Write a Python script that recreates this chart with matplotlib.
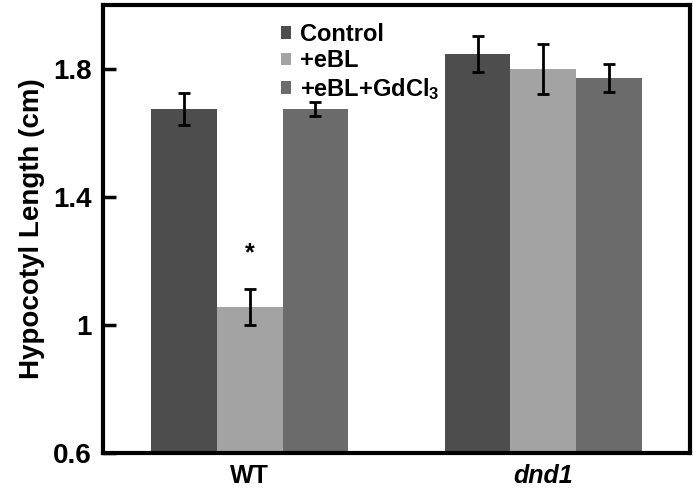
import numpy as np
import matplotlib
matplotlib.use("Agg")
import matplotlib.pyplot as plt

plt.rcParams['font.family'] = ['Liberation Sans', 'DejaVu Sans']
plt.rcParams['font.weight'] = 'bold'
plt.rcParams['mathtext.fontset'] = 'custom'
plt.rcParams['mathtext.rm'] = 'Liberation Sans:bold'
plt.rcParams['mathtext.it'] = 'Liberation Sans:bold:italic'
plt.rcParams['mathtext.bf'] = 'Liberation Sans:bold'

# data
groups = ['WT', 'dnd1']
treatments = ['Control', '+eBL', '+eBL+GdCl$_3$']
control = [1.675, 1.847]
control_err = [0.05, 0.055]
ebl = [1.056, 1.80]
ebl_err = [0.055, 0.077]
ebl_gd = [1.675, 1.772]
ebl_gd_err = [0.022, 0.044]
colors = ['#4d4d4d', '#a3a3a3', '#6b6b6b']

fig = plt.figure(figsize=(6.98, 4.98), dpi=100)
ax = fig.add_axes([103 / 698, 45 / 498, 587 / 698, 448 / 498])

x = np.arange(len(groups))
w = 0.224
series = [(control, control_err), (ebl, ebl_err), (ebl_gd, ebl_gd_err)]
for i, (vals, errs) in enumerate(series):
    pos = x + (i - 1) * w
    ax.bar(pos, vals, width=w, color=colors[i], label=treatments[i], zorder=2)
    ax.errorbar(pos, vals, yerr=errs, fmt='none', ecolor='black',
                elinewidth=2, capsize=4, capthick=2, zorder=3)

# significance marker over WT +eBL
ax.text(x[0], 1.225, '*', ha='center', va='center', fontsize=18, fontweight='bold')

ax.set_xlim(-0.5, 1.5)
ax.set_ylim(0.6, 2.0)
ax.set_yticks([0.6, 1.0, 1.4, 1.8])
ax.set_yticklabels(['0.6', '1', '1.4', '1.8'], fontsize=20, fontweight='bold')
ax.set_xticks(x)
ax.set_xticklabels(groups, fontsize=18, fontweight='bold')
ax.get_xticklabels()[1].set_style('italic')
ax.tick_params(axis='y', direction='in', length=9, width=2.5, pad=8)
ax.tick_params(axis='x', length=0, pad=8)
ax.set_ylabel('Hypocotyl Length (cm)', fontsize=20, fontweight='bold', labelpad=6)
for sp in ax.spines.values():
    sp.set_linewidth(3)

ax.legend(loc='upper left', bbox_to_anchor=(0.303, 0.96), frameon=False,
          fontsize=17, handlelength=0.42, handleheight=0.42,
          handletextpad=0.4, labelspacing=0.15, borderpad=0, borderaxespad=0)

fig.savefig('out.png', dpi=100)
